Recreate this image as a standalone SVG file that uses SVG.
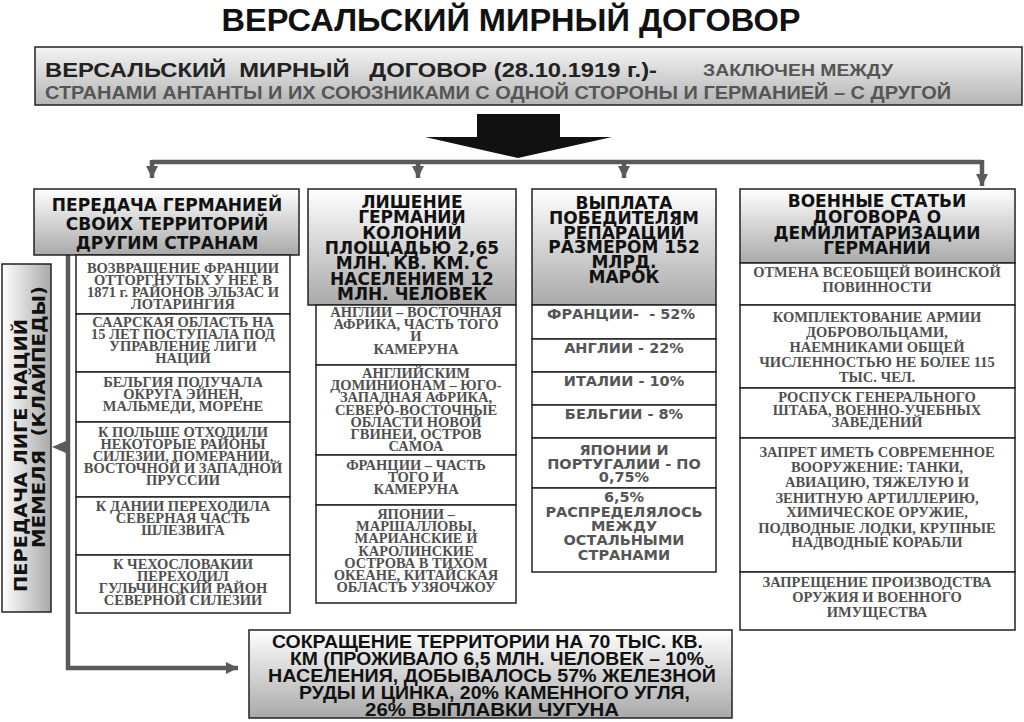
<svg xmlns="http://www.w3.org/2000/svg" width="1024" height="722" viewBox="0 0 1024 722">
<defs>
<linearGradient id="gv" x1="0" y1="0" x2="0" y2="1"><stop offset="0" stop-color="#ffffff"/><stop offset="1" stop-color="#a9a9a9"/></linearGradient>
<linearGradient id="gt" x1="0" y1="0" x2="0" y2="1"><stop offset="0" stop-color="#f4f4f4"/><stop offset="1" stop-color="#b4b4b4"/></linearGradient>
<linearGradient id="gh" x1="0" y1="0" x2="1" y2="0"><stop offset="0" stop-color="#ffffff"/><stop offset="1" stop-color="#a9a9a9"/></linearGradient>
<marker id="ah" viewBox="0 0 10 10" refX="10" refY="5" markerWidth="12" markerHeight="12" markerUnits="userSpaceOnUse" orient="auto"><path d="M0,0 L10,5 L0,10 Z" fill="#5a5a5a"/></marker>
<style>
.hb{fill:url(#gv);stroke:#222;stroke-width:1.5}
.bx{fill:#fff;stroke:#222;stroke-width:1.5}
.hd{font-family:"DejaVu Sans","Noto Sans",sans-serif;font-weight:bold;font-size:17px;fill:#111;text-anchor:middle}
.sv{font-family:"Liberation Serif",serif;font-weight:bold;font-size:14.5px;fill:#505050;text-anchor:middle}
.ss{font-family:"DejaVu Sans","Noto Sans",sans-serif;font-weight:bold;font-size:14.5px;fill:#555;text-anchor:middle;white-space:pre}
.nb{font-family:"Liberation Sans",sans-serif;font-weight:bold;white-space:pre}
.rv{font-family:"DejaVu Sans","Noto Sans",sans-serif;font-weight:bold;font-size:17px;fill:#111;white-space:pre}
.cn{stroke:#5a5a5a;stroke-width:4.5;fill:none}
</style>
</defs>
<rect width="1024" height="722" fill="#fff"/>

<g id="title">
<text class="nb" x="511" y="31" font-size="32" fill="#111" text-anchor="middle" textLength="579" lengthAdjust="spacingAndGlyphs">ВЕРСАЛЬСКИЙ МИРНЫЙ ДОГОВОР</text>
</g>

<g id="top">
<rect x="35" y="47" width="987" height="58" fill="url(#gt)" stroke="#222" stroke-width="1.5"/>
<text class="nb" x="45" y="77" font-size="21" fill="#222" textLength="612" lengthAdjust="spacingAndGlyphs">ВЕРСАЛЬСКИЙ  МИРНЫЙ   ДОГОВОР (28.10.1919 г.)-</text>
<text class="nb" x="703" y="76" font-size="17" fill="#555" textLength="190" lengthAdjust="spacingAndGlyphs">ЗАКЛЮЧЕН МЕЖДУ</text>
<text class="nb" x="45" y="99" font-size="18" fill="#555" textLength="906" lengthAdjust="spacingAndGlyphs">СТРАНАМИ АНТАНТЫ И ИХ СОЮЗНИКАМИ С ОДНОЙ СТОРОНЫ И ГЕРМАНИЕЙ – С ДРУГОЙ</text>
</g>

<g id="bigarrow">
<path d="M477,114 H560 V137 H612 L518,158 L425,137 H477 Z" fill="#111"/>
</g>

<g id="connectors">
<path class="cn" d="M152,162 H982"/>
<path class="cn" d="M152,160 V178" marker-end="url(#ah)"/>
<path class="cn" d="M418,162 V178" marker-end="url(#ah)"/>
<path class="cn" d="M624,162 V178" marker-end="url(#ah)"/>
<path class="cn" d="M982,160 V186" marker-end="url(#ah)"/>
<path class="cn" d="M68,255 V668 H238" marker-end="url(#ah)"/>
<path d="M66,441 L52,447 L66,453 Z" fill="#5a5a5a"/>
</g>

<g id="col1">
<rect class="hb" x="34" y="189" width="265" height="66"/>
<text class="hd" x="167" y="211"><tspan x="167">ПЕРЕДАЧА ГЕРМАНИЕЙ</tspan><tspan x="167" dy="19">СВОИХ ТЕРРИТОРИЙ</tspan><tspan x="167" dy="19">ДРУГИМ СТРАНАМ</tspan></text>
<rect class="bx" x="76" y="255" width="214" height="59"/>
<text class="sv" x="183" y="273"><tspan x="183">ВОЗВРАЩЕНИЕ ФРАНЦИИ</tspan><tspan x="183" dy="12">ОТТОРГНУТЫХ У НЕЕ В</tspan><tspan x="183" dy="12">1871 г. РАЙОНОВ ЭЛЬЗАС И</tspan><tspan x="183" dy="12">ЛОТАРИНГИЯ</tspan></text>
<rect class="bx" x="76" y="314" width="214" height="58"/>
<text class="sv" x="183" y="327"><tspan x="183">СААРСКАЯ ОБЛАСТЬ НА</tspan><tspan x="183" dy="12">15 ЛЕТ ПОСТУПАЛА ПОД</tspan><tspan x="183" dy="12">УПРАВЛЕНИЕ ЛИГИ</tspan><tspan x="183" dy="12">НАЦИЙ</tspan></text>
<rect class="bx" x="76" y="372" width="214" height="50"/>
<text class="sv" x="183" y="387"><tspan x="183">БЕЛЬГИЯ ПОЛУЧАЛА</tspan><tspan x="183" dy="12">ОКРУГА ЭЙНЕН,</tspan><tspan x="183" dy="12">МАЛЬМЕДИ, МОРЕНЕ</tspan></text>
<rect class="bx" x="76" y="422" width="214" height="75"/>
<text class="sv" x="183" y="437"><tspan x="183">К ПОЛЬШЕ ОТХОДИЛИ</tspan><tspan x="183" dy="12">НЕКОТОРЫЕ РАЙОНЫ</tspan><tspan x="183" dy="12">СИЛЕЗИИ, ПОМЕРАНИИ,</tspan><tspan x="183" dy="12">ВОСТОЧНОЙ И ЗАПАДНОЙ</tspan><tspan x="183" dy="12">ПРУССИИ</tspan></text>
<rect class="bx" x="76" y="497" width="214" height="58"/>
<text class="sv" x="183" y="511"><tspan x="183">К ДАНИИ ПЕРЕХОДИЛА</tspan><tspan x="183" dy="12">СЕВЕРНАЯ ЧАСТЬ</tspan><tspan x="183" dy="12">ШЛЕЗВИГА</tspan></text>
<rect class="bx" x="76" y="555" width="214" height="58"/>
<text class="sv" x="183" y="569"><tspan x="183">К ЧЕХОСЛОВАКИИ</tspan><tspan x="183" dy="12">ПЕРЕХОДИЛ</tspan><tspan x="183" dy="12">ГУЛЬЧИНСКИЙ РАЙОН</tspan><tspan x="183" dy="12">СЕВЕРНОЙ СИЛЕЗИИ</tspan></text>
</g>

<g id="memel">
<rect x="2" y="264" width="49" height="348" fill="url(#gh)" stroke="#222" stroke-width="1.5"/>
<text class="rv" transform="translate(27,592) rotate(-90)" textLength="273" lengthAdjust="spacingAndGlyphs">ПЕРЕДАЧА ЛИГЕ НАЦИЙ</text>
<text class="rv" transform="translate(45,548) rotate(-90)" textLength="262" lengthAdjust="spacingAndGlyphs">МЕМЕЛЯ  (КЛАЙПЕДЫ)</text>
</g>

<g id="col2">
<rect class="hb" x="308" y="189" width="208" height="116"/>
<text class="hd" x="412" y="208"><tspan x="412">ЛИШЕНИЕ</tspan><tspan x="412" dy="15.3">ГЕРМАНИИ</tspan><tspan x="412" dy="15.3">КОЛОНИЙ</tspan><tspan x="412" dy="15.3">ПЛОЩАДЬЮ 2,65</tspan><tspan x="412" dy="15.3">МЛН. КВ. КМ. С</tspan><tspan x="412" dy="15.3">НАСЕЛЕНИЕМ 12</tspan><tspan x="412" dy="15.3">МЛН. ЧЕЛОВЕК</tspan></text>
<rect class="bx" x="316" y="305" width="200" height="60"/>
<text class="sv" x="416" y="317"><tspan x="416">АНГЛИИ – ВОСТОЧНАЯ</tspan><tspan x="416" dy="12">АФРИКА, ЧАСТЬ ТОГО</tspan><tspan x="416" dy="12">И</tspan><tspan x="416" dy="13">КАМЕРУНА</tspan></text>
<rect class="bx" x="316" y="365" width="200" height="90"/>
<text class="sv" x="416" y="378"><tspan x="416">АНГЛИЙСКИМ</tspan><tspan x="416" dy="12.2">ДОМИНИОНАМ – ЮГО-</tspan><tspan x="416" dy="12.2">ЗАПАДНАЯ АФРИКА,</tspan><tspan x="416" dy="12.2">СЕВЕРО-ВОСТОЧНЫЕ</tspan><tspan x="416" dy="12.2">ОБЛАСТИ НОВОЙ</tspan><tspan x="416" dy="12.2">ГВИНЕИ, ОСТРОВ</tspan><tspan x="416" dy="12.2">САМОА</tspan></text>
<rect class="bx" x="316" y="455" width="200" height="50"/>
<text class="sv" x="416" y="470"><tspan x="416">ФРАНЦИИ – ЧАСТЬ</tspan><tspan x="416" dy="12">ТОГО И</tspan><tspan x="416" dy="12">КАМЕРУНА</tspan></text>
<rect class="bx" x="316" y="505" width="200" height="98"/>
<text class="sv" x="416" y="519"><tspan x="416">ЯПОНИИ –</tspan><tspan x="416" dy="12.2">МАРШАЛЛОВЫ,</tspan><tspan x="416" dy="12.2">МАРИАНСКИЕ И</tspan><tspan x="416" dy="12.2">КАРОЛИНСКИЕ</tspan><tspan x="416" dy="12.2">ОСТРОВА В ТИХОМ</tspan><tspan x="416" dy="12.2">ОКЕАНЕ, КИТАЙСКАЯ</tspan><tspan x="416" dy="12.2">ОБЛАСТЬ УЗЯОЧЖОУ</tspan></text>
</g>

<g id="col3">
<rect class="hb" x="532" y="189" width="184" height="116"/>
<text class="hd" x="624" y="209"><tspan x="624">ВЫПЛАТА</tspan><tspan x="624" dy="15">ПОБЕДИТЕЛЯМ</tspan><tspan x="624" dy="14.5">РЕПАРАЦИЙ</tspan><tspan x="624" dy="14.7">РАЗМЕРОМ 152</tspan><tspan x="624" dy="14.5">МЛРД.</tspan><tspan x="624" dy="14.8">МАРОК</tspan></text>
<rect class="bx" x="532" y="305" width="184" height="34"/>
<text class="ss" x="621" y="319">ФРАНЦИИ-  - 52%</text>
<rect class="bx" x="532" y="339" width="184" height="33"/>
<text class="ss" x="624" y="353">АНГЛИИ - 22%</text>
<rect class="bx" x="532" y="372" width="184" height="33"/>
<text class="ss" x="624" y="386">ИТАЛИИ - 10%</text>
<rect class="bx" x="532" y="405" width="184" height="33"/>
<text class="ss" x="624" y="419">БЕЛЬГИИ - 8%</text>
<rect class="bx" x="532" y="438" width="184" height="50"/>
<text class="ss" x="624" y="455"><tspan x="624">ЯПОНИИ И</tspan><tspan x="624" dy="13.5">ПОРТУГАЛИИ - ПО</tspan><tspan x="624" dy="13.5">0,75%</tspan></text>
<rect class="bx" x="532" y="488" width="184" height="84"/>
<text class="ss" x="624" y="502"><tspan x="624">6,5%</tspan><tspan x="624" dy="14.5">РАСПРЕДЕЛЯЛОСЬ</tspan><tspan x="624" dy="14">МЕЖДУ</tspan><tspan x="624" dy="14.5">ОСТАЛЬНЫМИ</tspan><tspan x="624" dy="14.5">СТРАНАМИ</tspan></text>
</g>

<g id="col4">
<rect class="hb" x="740" y="189" width="275" height="74"/>
<text class="hd" x="877" y="207"><tspan x="877">ВОЕННЫЕ СТАТЬИ</tspan><tspan x="877" dy="16">ДОГОВОРА О</tspan><tspan x="877" dy="16">ДЕМИЛИТАРИЗАЦИИ</tspan><tspan x="877" dy="15">ГЕРМАНИИ</tspan></text>
<rect class="bx" x="740" y="263" width="275" height="42"/>
<text class="sv" x="877" y="277"><tspan x="877">ОТМЕНА ВСЕОБЩЕЙ ВОИНСКОЙ</tspan><tspan x="877" dy="15">ПОВИННОСТИ</tspan></text>
<rect class="bx" x="740" y="305" width="275" height="83"/>
<text class="sv" x="877" y="322"><tspan x="877">КОМПЛЕКТОВАНИЕ АРМИИ</tspan><tspan x="877" dy="15">ДОБРОВОЛЬЦАМИ,</tspan><tspan x="877" dy="15">НАЕМНИКАМИ ОБЩЕЙ</tspan><tspan x="877" dy="15">ЧИСЛЕННОСТЬЮ НЕ БОЛЕЕ 115</tspan><tspan x="877" dy="15">ТЫС. ЧЕЛ.</tspan></text>
<rect class="bx" x="740" y="388" width="275" height="50"/>
<text class="sv" x="877" y="402"><tspan x="877">РОСПУСК ГЕНЕРАЛЬНОГО</tspan><tspan x="877" dy="13">ШТАБА, ВОЕННО-УЧЕБНЫХ</tspan><tspan x="877" dy="12">ЗАВЕДЕНИЙ</tspan></text>
<rect class="bx" x="740" y="438" width="275" height="134"/>
<text class="sv" x="877" y="457"><tspan x="877">ЗАПРЕТ ИМЕТЬ СОВРЕМЕННОЕ</tspan><tspan x="877" dy="15">ВООРУЖЕНИЕ: ТАНКИ,</tspan><tspan x="877" dy="15">АВИАЦИЮ, ТЯЖЕЛУЮ И</tspan><tspan x="877" dy="15.5">ЗЕНИТНУЮ АРТИЛЛЕРИЮ,</tspan><tspan x="877" dy="14.5">ХИМИЧЕСКОЕ ОРУЖИЕ,</tspan><tspan x="877" dy="15.5">ПОДВОДНЫЕ ЛОДКИ, КРУПНЫЕ</tspan><tspan x="877" dy="14.5">НАДВОДНЫЕ КОРАБЛИ</tspan></text>
<rect class="bx" x="740" y="572" width="275" height="58"/>
<text class="sv" x="877" y="587"><tspan x="877">ЗАПРЕЩЕНИЕ ПРОИЗВОДСТВА</tspan><tspan x="877" dy="15">ОРУЖИЯ И ВОЕННОГО</tspan><tspan x="877" dy="15">ИМУЩЕСТВА</tspan></text>
</g>

<g id="bottom">
<rect x="249" y="630" width="483" height="88" fill="url(#gv)" stroke="#222" stroke-width="1.5"/>
<text class="nb" x="272" y="648" font-size="18" fill="#111"><tspan x="272" textLength="431" lengthAdjust="spacingAndGlyphs">СОКРАЩЕНИЕ ТЕРРИТОРИИ НА 70 ТЫС. КВ.</tspan><tspan x="290" dy="17" textLength="414" lengthAdjust="spacingAndGlyphs">КМ (ПРОЖИВАЛО 6,5 МЛН. ЧЕЛОВЕК – 10%</tspan><tspan x="268" dy="17" textLength="448" lengthAdjust="spacingAndGlyphs">НАСЕЛЕНИЯ, ДОБЫВАЛОСЬ 57% ЖЕЛЕЗНОЙ</tspan><tspan x="299" dy="17" textLength="391" lengthAdjust="spacingAndGlyphs">РУДЫ И ЦИНКА, 20% КАМЕННОГО УГЛЯ,</tspan><tspan x="365" dy="17" textLength="254" lengthAdjust="spacingAndGlyphs">26% ВЫПЛАВКИ ЧУГУНА</tspan></text>
</g>
</svg>
